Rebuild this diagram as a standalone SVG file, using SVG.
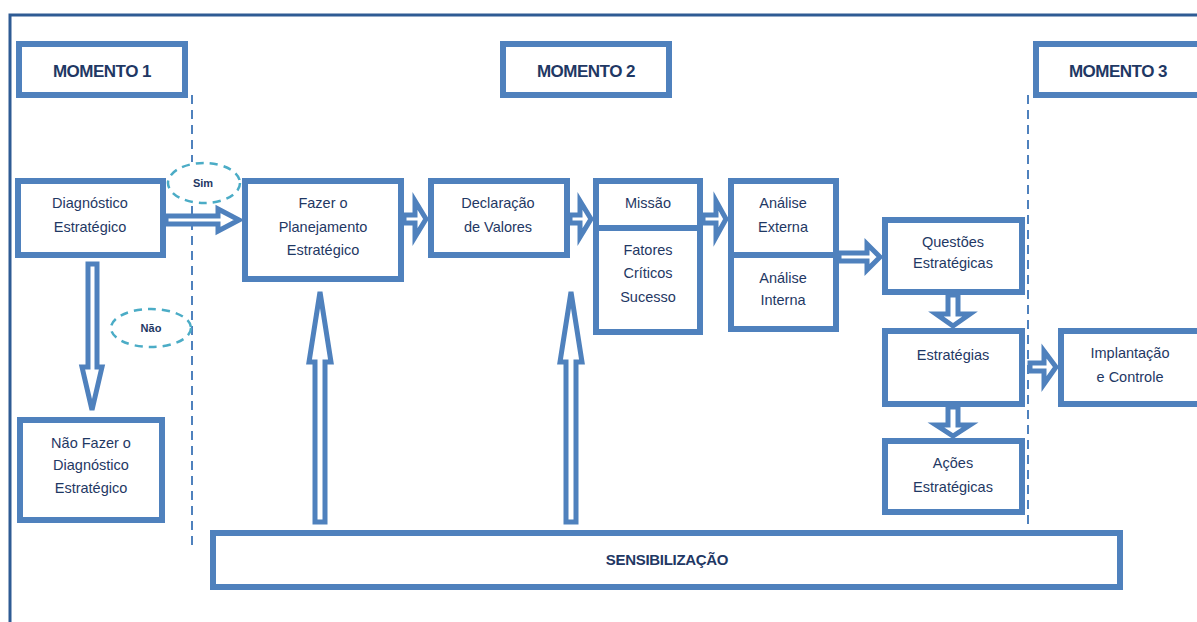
<svg xmlns="http://www.w3.org/2000/svg" width="1197" height="622" viewBox="0 0 1197 622">
<style>
.box{fill:#fff;stroke:#4f81bd;stroke-width:6}
.arr{fill:#fff;stroke:#4f81bd;stroke-width:5;stroke-linejoin:miter}
.dash{stroke:#4f81bd;stroke-width:2;stroke-dasharray:9 6;fill:none}
.ell{fill:#fff;stroke:#4bacc6;stroke-width:2.5;stroke-dasharray:8 6}
text{font-family:"Liberation Sans",Arial,sans-serif;fill:#1f3864;text-anchor:middle}
.t{font-size:14.5px}
.h{font-size:17px;font-weight:bold;letter-spacing:-0.5px}
.s{font-size:15px;font-weight:bold;letter-spacing:-0.3px}
.e{font-size:11px;font-weight:bold}
</style>
<rect width="1197" height="622" fill="#fff"/>
<path d="M10,622 V15 H1197" fill="none" stroke="#2e5b94" stroke-width="3"/>
<g id="guides">
<path class="dash" d="M192,95 V162 M192,206 V545"/>
<path class="dash" d="M1028,95 V545"/>
</g>
<g id="momento1"><rect class="box" x="19" y="44" width="166" height="51"/><text class="h" x="102" y="77">MOMENTO 1</text></g>
<g id="momento2"><rect class="box" x="503" y="44" width="166" height="51"/><text class="h" x="586" y="77">MOMENTO 2</text></g>
<g id="momento3"><rect class="box" x="1036" y="44" width="166" height="51"/><text class="h" x="1118" y="77">MOMENTO 3</text></g>
<g id="connectors">
<path class="arr" d="M166,216 H218 V209 L239,220 L218,231 V224 H166 Z"/>
<path class="arr" d="M88,264 V367 H82 L92,410 L102,367 H97 V264 Z"/>
<path class="arr" d="M404,215 H415 V201 L426,219 L415,237 V223 H404 Z"/>
<path class="arr" d="M570,215 H580 V201 L591,219 L580,237 V223 H570 Z"/>
<path class="arr" d="M703,215 H716 V201 L726,219 L716,237 V223 H703 Z"/>
<path class="arr" d="M839,253 H867 V244 L880,257 L867,270 V261 H839 Z"/>
<path class="arr" d="M948,295 V314 H936 L953,326 L970,314 H958 V295 Z"/>
<path class="arr" d="M948,407 V425 H936 L953,436 L970,425 H958 V407 Z"/>
<path class="arr" d="M1030,363 H1044 V351 L1056,367 L1044,384 V371 H1030 Z"/>
<path class="arr" d="M315,522 V362 H309 L320,292 L331,362 H325 V522 Z"/>
<path class="arr" d="M566,522 V362 H560 L571,292 L582,362 H576 V522 Z"/>
</g>
<g id="sim"><ellipse class="ell" cx="204" cy="183" rx="36" ry="20"/><text class="e" x="203" y="187">Sim</text></g>
<g id="nao"><ellipse class="ell" cx="151" cy="328" rx="40" ry="19"/><text class="e" x="151" y="332">Não</text></g>
<g id="diagnostico"><rect class="box" x="18" y="181" width="145" height="74"/><text class="t" x="90" y="208">Diagnóstico</text><text class="t" x="90" y="232">Estratégico</text></g>
<g id="naofazer"><rect class="box" x="20" y="420" width="142" height="100"/><text class="t" x="91" y="448">Não Fazer o</text><text class="t" x="91" y="470">Diagnóstico</text><text class="t" x="91" y="493">Estratégico</text></g>
<g id="fazer"><rect class="box" x="245" y="181" width="156" height="98"/><text class="t" x="323" y="208">Fazer o</text><text class="t" x="323" y="232">Planejamento</text><text class="t" x="323" y="255">Estratégico</text></g>
<g id="declaracao"><rect class="box" x="431" y="181" width="136" height="74"/><text class="t" x="498" y="208">Declaração</text><text class="t" x="498" y="232">de Valores</text></g>
<g id="missao"><rect class="box" x="596" y="181" width="104" height="151"/><line x1="596" y1="228" x2="700" y2="228" stroke="#4f81bd" stroke-width="6"/><text class="t" x="648" y="208">Missão</text><text class="t" x="648" y="255">Fatores</text><text class="t" x="648" y="278">Críticos</text><text class="t" x="648" y="302">Sucesso</text></g>
<g id="analise"><rect class="box" x="731" y="181" width="105" height="148"/><line x1="731" y1="255" x2="836" y2="255" stroke="#4f81bd" stroke-width="6"/><text class="t" x="783" y="208">Análise</text><text class="t" x="783" y="232">Externa</text><text class="t" x="783" y="283">Análise</text><text class="t" x="783" y="305">Interna</text></g>
<g id="questoes"><rect class="box" x="885" y="220" width="137" height="72"/><text class="t" x="953" y="247">Questões</text><text class="t" x="953" y="268">Estratégicas</text></g>
<g id="estrategias"><rect class="box" x="885" y="331" width="137" height="73"/><text class="t" x="953" y="360">Estratégias</text></g>
<g id="acoes"><rect class="box" x="885" y="441" width="137" height="71"/><text class="t" x="953" y="468">Ações</text><text class="t" x="953" y="492">Estratégicas</text></g>
<g id="implantacao"><rect class="box" x="1061" y="331" width="140" height="73"/><text class="t" x="1130" y="358">Implantação</text><text class="t" x="1130" y="382">e Controle</text></g>
<g id="sensibilizacao"><rect class="box" x="213" y="533" width="907" height="54"/><text class="s" x="667" y="565">SENSIBILIZAÇÃO</text></g>
</svg>
